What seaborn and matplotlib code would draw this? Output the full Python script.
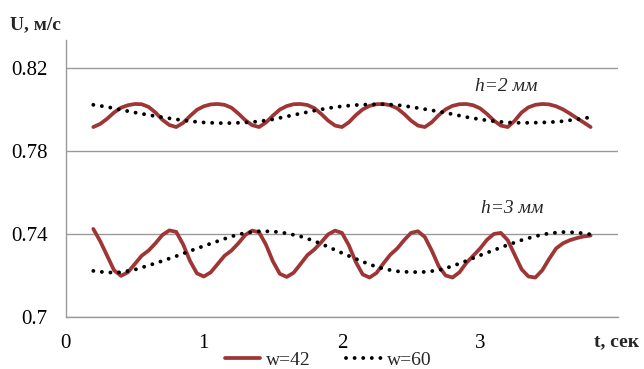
import matplotlib
matplotlib.use("Agg")
import matplotlib.pyplot as plt
from matplotlib.lines import Line2D
import seaborn as sns
import pandas as pd
import numpy as np

# --- data ---
# w=42 series sampled every 0.05 s, w=60 series every 0.1 s
t_fine = np.round(np.arange(0.2, 3.8001, 0.05), 2)
t_coarse = np.round(np.arange(0.2, 3.8001, 0.1), 2)

u42_h2 = [
    0.7915, 0.7930, 0.7955, 0.7985, 0.8008, 0.8020, 0.8026, 0.8025, 0.8012, 0.7985, 0.7950, 0.7925,
    0.7915, 0.7935, 0.7968, 0.7998, 0.8015, 0.8024, 0.8026, 0.8022, 0.8008, 0.7980, 0.7948, 0.7924,
    0.7915, 0.7937, 0.7970, 0.7999, 0.8016, 0.8025, 0.8026, 0.8021, 0.8006, 0.7978, 0.7946, 0.7922,
    0.7915, 0.7938, 0.7972, 0.8000, 0.8017, 0.8025, 0.8026, 0.8020, 0.8005, 0.7978, 0.7946, 0.7922,
    0.7915, 0.7938, 0.7972, 0.8000, 0.8017, 0.8025, 0.8026, 0.8020, 0.8005, 0.7978, 0.7946, 0.7922,
    0.7915, 0.7945, 0.7985, 0.8010, 0.8022, 0.8026, 0.8024, 0.8015, 0.8000, 0.7980, 0.7958, 0.7937,
    0.7915,
]
u42_h3 = [
    0.7424, 0.7365, 0.7295, 0.7225,
    0.7198, 0.7215, 0.7255, 0.7295, 0.7320, 0.7355, 0.7395, 0.7417, 0.7410, 0.7350, 0.7270, 0.7210,
    0.7195, 0.7215, 0.7255, 0.7295, 0.7320, 0.7355, 0.7395, 0.7416, 0.7408, 0.7348, 0.7268, 0.7208,
    0.7193, 0.7213, 0.7255, 0.7298, 0.7325, 0.7360, 0.7398, 0.7416, 0.7405, 0.7345, 0.7265, 0.7205,
    0.7190, 0.7212, 0.7258, 0.7300, 0.7330, 0.7370, 0.7405, 0.7413, 0.7385, 0.7320, 0.7245, 0.7200,
    0.7190, 0.7215, 0.7260, 0.7295, 0.7330, 0.7372, 0.7400, 0.7405, 0.7370, 0.7300, 0.7230, 0.7195,
    0.7190, 0.7225, 0.7280, 0.7330, 0.7355, 0.7370, 0.7380, 0.7388, 0.7392,
]
u60_h2 = [
    0.8022, 0.8012, 0.7998, 0.7985, 0.7973, 0.7962, 0.7952, 0.7943, 0.7937, 0.7934,
    0.7934, 0.7937, 0.7942, 0.7952, 0.7966, 0.7980, 0.7994, 0.8006, 0.8015, 0.8021,
    0.8024, 0.8025, 0.8021, 0.8012, 0.8001, 0.7990, 0.7977, 0.7963, 0.7952, 0.7943,
    0.7937, 0.7935, 0.7936, 0.7938, 0.7943, 0.7952, 0.7962,
]
u60_h3 = [
    0.7222, 0.7214, 0.7215, 0.7228, 0.7248, 0.7270, 0.7293, 0.7318, 0.7342, 0.7365,
    0.7388, 0.7405, 0.7413, 0.7412, 0.7403, 0.7388, 0.7366, 0.7338, 0.7308, 0.7280,
    0.7253, 0.7232, 0.7220, 0.7216, 0.7217, 0.7225, 0.7245, 0.7270, 0.7297, 0.7322,
    0.7347, 0.7370, 0.7389, 0.7403, 0.7409, 0.7407, 0.7398,
]

x_ticks = [0, 1, 2, 3, 4]
x_ticklabels = ["0", "1", "2", "3", ""]
y_ticks = [0.70, 0.74, 0.78, 0.82]
y_ticklabels = ["0.7", "0.74", "0.78", "0.82"]

red = "#9E3636"
grey = "#9A9A9A"

sns.set_theme(style="white")
plt.rcParams["font.family"] = ["Liberation Serif", "DejaVu Serif"]

fig = plt.figure(figsize=(6.44, 3.69), dpi=100)
ax = fig.add_axes([0.102, 0.141, 0.858, 0.751])

dotted = (0, (0.01, 2.2))
for u in (u42_h2, u42_h3):
    sns.lineplot(x=t_fine, y=u, ax=ax, color=red, linewidth=2.7,
                 solid_capstyle="round", solid_joinstyle="round")
for u in (u60_h2, u60_h3):
    sns.lineplot(x=t_coarse, y=u, ax=ax, color="black", linewidth=2.8,
                 linestyle=dotted, dash_capstyle="round")

ax.set_xlim(0, 4)
ax.set_ylim(0.70, 0.8335)
ax.set_xticks(x_ticks)
ax.set_xticklabels(x_ticklabels)
ax.set_yticks(y_ticks)
ax.set_yticklabels(y_ticklabels)
ax.tick_params(axis="both", labelsize=15, colors="black", length=5,
               width=1, direction="out")
ax.tick_params(axis="x", color=grey, pad=7)
ax.tick_params(axis="y", color=grey, pad=8)

ax.yaxis.grid(True, color=grey, linewidth=1)
ax.xaxis.grid(False)
for side in ("top", "right"):
    ax.spines[side].set_visible(False)
for side in ("left", "bottom"):
    ax.spines[side].set_color(grey)
    ax.spines[side].set_linewidth(1)
ax.set_xlabel("")
ax.set_ylabel("")

ax.text(3.19, 0.8109, "h=2 мм", fontsize=14, style="italic",
        ha="center", va="center")
ax.text(3.23, 0.7521, "h=3 мм", fontsize=14, style="italic",
        ha="center", va="center")

fig.text(0.016, 0.932, "U, м/с", fontsize=14, fontweight="bold",
         ha="left", va="center")
fig.text(0.992, 0.074, "t, сек", fontsize=14, fontweight="bold",
         ha="right", va="center")

handles = [
    Line2D([], [], color=red, linewidth=2.7),
    Line2D([], [], color="black", linewidth=2.8, linestyle=dotted,
           dash_capstyle="round"),
]
fig.legend(handles, ["w=42", "w=60"], loc="lower center", ncol=2,
           bbox_to_anchor=(0.51, -0.005), frameon=False, fontsize=14,
           handlelength=1.8, handletextpad=0.3, columnspacing=1.8,
           borderaxespad=0, borderpad=0.1)

fig.savefig("out.png", dpi=100)
